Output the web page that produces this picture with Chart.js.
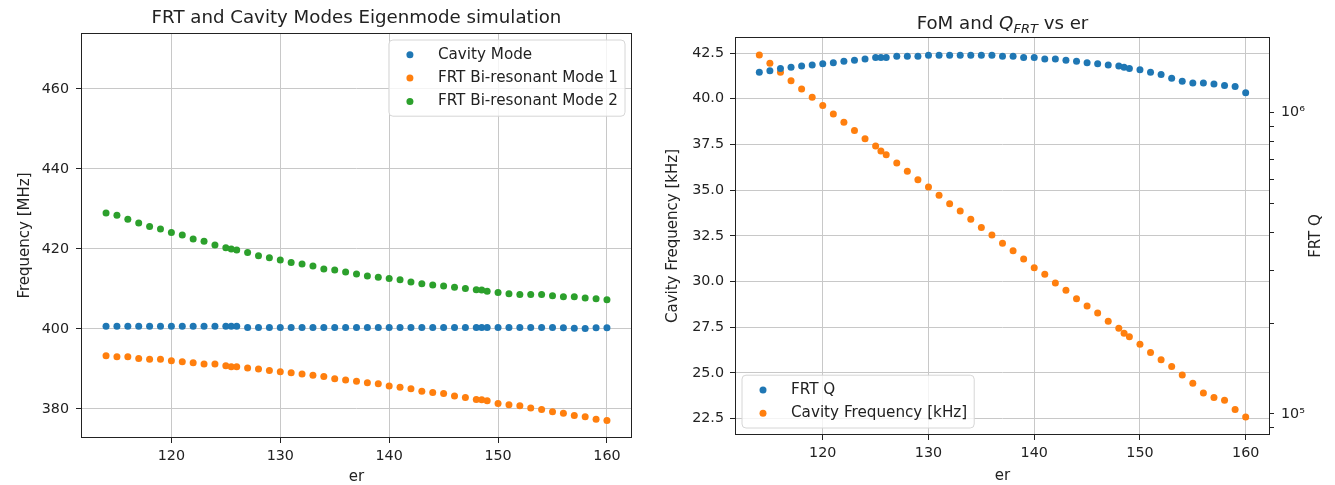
<!DOCTYPE html>
<html>
<head>
<meta charset="utf-8">
<script src="https://cdn.jsdelivr.net/npm/chart.js@4.4.1/dist/chart.umd.min.js"></script>
<style>
  body { margin: 0; background: #fff; }
  #left { position: absolute; left: 0; top: 0; }
  #right { position: absolute; left: 660px; top: 0; }
</style>
</head>
<body>
<canvas id="left" width="640" height="485"></canvas>
<canvas id="right" width="675" height="485"></canvas>
<script>
// er sweep (same x for every series)
var er = [114,115,116,117,118,119,120,121,122,123,124,125,125.5,126,
  127,128,129,130,131,132,133,134,135,136,137,138,139,140,141,142,143,144,145,146,147,148,148.5,149,
  150,151,152,153,154,155,156,157,158,159,160];

// left plot, MHz
var cavityMode = [400.65,400.65,400.65,400.65,400.65,400.65,400.65,400.65,400.65,400.65,400.65,400.65,400.65,400.65,
  400.35,400.35,400.35,400.35,400.35,400.35,400.35,400.35,400.35,400.35,400.35,400.35,400.35,400.35,400.35,400.35,400.35,400.35,400.35,400.35,400.35,400.35,400.35,400.35,
  400.35,400.35,400.35,400.35,400.35,400.35,400.25,400.15,400.1,400.3,400.3];
var mode1 = [393.3,393.0,393.0,392.6,392.4,392.4,392.05,391.8,391.5,391.2,391.2,390.8,390.5,390.5,
  390.2,389.95,389.6,389.3,389.0,388.7,388.4,388.1,387.5,387.2,386.9,386.5,386.3,385.7,385.4,385.0,384.4,384.1,383.8,383.2,382.8,382.35,382.25,382.0,
  381.3,381.0,380.75,380.2,379.8,379.25,378.9,378.3,378.0,377.4,377.1];
var mode2 = [429.0,428.4,427.4,426.5,425.6,425.0,424.1,423.5,422.5,421.9,421.0,420.3,420.0,419.7,
  419.1,418.3,417.8,417.2,416.6,416.25,415.7,415.0,414.75,414.2,413.75,413.2,412.9,412.6,412.3,411.7,411.3,411.0,410.75,410.4,410.1,409.8,409.7,409.4,
  409.1,408.75,408.6,408.6,408.6,408.3,408.0,408.0,407.7,407.5,407.25];

// right plot
var frtQ = [1.36e6,1.375e6,1.40e6,1.413e6,1.428e6,1.439e6,1.453e6,1.464e6,1.479e6,1.491e6,1.506e6,1.522e6,1.522e6,1.522e6,
  1.537e6,1.537e6,1.537e6,1.549e6,1.549e6,1.549e6,1.549e6,1.549e6,1.549e6,1.549e6,1.537e6,1.537e6,1.522e6,1.522e6,1.506e6,1.506e6,1.491e6,1.479e6,1.464e6,1.453e6,1.439e6,1.428e6,1.413e6,1.40e6,
  1.388e6,1.36e6,1.337e6,1.299e6,1.27e6,1.253e6,1.253e6,1.244e6,1.229e6,1.219e6,1.164e6];
var cavityFreq = [42.39,41.94,41.45,40.99,40.54,40.08,39.63,39.17,38.72,38.26,37.81,37.41,37.14,36.94,
  36.48,36.03,35.57,35.17,34.72,34.26,33.86,33.41,32.95,32.55,32.09,31.68,31.23,30.75,30.39,29.92,29.52,29.06,28.66,28.28,27.83,27.44,27.17,26.97,
  26.57,26.12,25.72,25.35,24.88,24.43,23.90,23.65,23.50,22.99,22.59];

var erTicks = [120,130,140,150,160];
var mhzTicks = [380,400,420,440,460];
var khzTicks = [22.5,25,27.5,30,32.5,35,37.5,40,42.5];
var qTicks = [9e4,1e5,2e5,3e5,4e5,5e5,6e5,7e5,8e5,9e5,1e6];

var BLUE = '#1f77b4', ORANGE = '#ff7f0e', GREEN = '#2ca02c';
var FONT = '"DejaVu Sans", sans-serif';
var INK = '#222';
var GRID = '#c8c8c8';

Chart.defaults.font.family = FONT;
Chart.defaults.color = INK;

function pts(ys) {
  return er.map(function (x, i) { return {x: x, y: ys[i]}; });
}
function ds(label, ys, color, axis) {
  var d = {label: label, data: pts(ys), backgroundColor: color, borderColor: color,
    pointRadius: 3.5, pointBorderWidth: 0, pointHoverRadius: 3.5};
  if (axis) d.yAxisID = axis;
  return d;
}
function fixTicks(list) {
  return function (scale) { scale.ticks = list.map(function (v) { return {value: v}; }); };
}

// full black frame round the plot area
var frame = {
  id: 'frame',
  afterDraw: function (chart) {
    var c = chart.ctx, a = chart.chartArea;
    c.save();
    c.strokeStyle = INK;
    c.lineWidth = 1;
    c.strokeRect(Math.round(a.left) + 0.5, Math.round(a.top) + 0.5,
      Math.round(a.right - a.left) - 1, Math.round(a.bottom - a.top) - 1);
    c.restore();
  }
};

// title made of pieces so the subscript can be drawn
function titlePlugin(pieces, baseline) {
  return {
    id: 'pieceTitle',
    afterDraw: function (chart) {
      var c = chart.ctx, a = chart.chartArea;
      c.save();
      c.fillStyle = INK;
      c.textBaseline = 'alphabetic';
      c.textAlign = 'left';
      var total = 0;
      pieces.forEach(function (p) { c.font = p.f; total += c.measureText(p.t).width; });
      var x = (a.left + a.right) / 2 - total / 2;
      pieces.forEach(function (p) {
        c.font = p.f;
        c.fillText(p.t, x, baseline + (p.dy || 0));
        x += c.measureText(p.t).width;
      });
      c.restore();
    }
  };
}

// matplotlib-like legend box inside the axes
function legendPlugin(where) {
  return {
    id: 'boxLegend',
    afterDraw: function (chart) {
      var c = chart.ctx, a = chart.chartArea;
      var items = chart.data.datasets;
      var rowH = 23.4;
      c.save();
      c.font = '15.2px ' + FONT;
      var tw = 0;
      items.forEach(function (d) { tw = Math.max(tw, c.measureText(d.label).width); });
      var w = 49 + tw + 7;
      var h = items.length * rowH + 6;
      var x = where === 'ur' ? a.right - 7 - w : a.left + 7;
      var y = where === 'ur' ? a.top + 7 : a.bottom - 7 - h;
      var r = 4;
      c.beginPath();
      c.moveTo(x + r, y);
      c.arcTo(x + w, y, x + w, y + h, r);
      c.arcTo(x + w, y + h, x, y + h, r);
      c.arcTo(x, y + h, x, y, r);
      c.arcTo(x, y, x + w, y, r);
      c.closePath();
      c.fillStyle = 'rgba(255,255,255,0.8)';
      c.fill();
      c.strokeStyle = '#d6d6d6';
      c.lineWidth = 1;
      c.stroke();
      c.textBaseline = 'middle';
      items.forEach(function (d, i) {
        var cy = y + 3 + rowH * (i + 0.5);
        c.fillStyle = d.backgroundColor;
        c.beginPath();
        c.arc(x + 21, cy, 3.5, 0, Math.PI * 2);
        c.fill();
        c.fillStyle = INK;
        c.fillText(d.label, x + 49, cy);
      });
      c.restore();
    }
  };
}

// right-hand axis label reading bottom to top
var frtQLabel = {
  id: 'frtQLabel',
  afterDraw: function (chart) {
    var c = chart.ctx, a = chart.chartArea;
    c.save();
    c.translate(656, (a.top + a.bottom) / 2);
    c.rotate(-Math.PI / 2);
    c.font = '15px ' + FONT;
    c.fillStyle = INK;
    c.textAlign = 'center';
    c.textBaseline = 'middle';
    c.fillText('FRT Q', 0, 0);
    c.restore();
  }
};

var tickFont = {size: 14.3, family: FONT};
var labelFont = {size: 15, family: FONT, lineHeight: 1.2};

new Chart(document.getElementById('left'), {
  type: 'scatter',
  data: {datasets: [
    ds('Cavity Mode', cavityMode, BLUE),
    ds('FRT Bi-resonant Mode 1', mode1, ORANGE),
    ds('FRT Bi-resonant Mode 2', mode2, GREEN)
  ]},
  options: {
    responsive: false,
    animation: false,
    layout: {padding: {top: 33, right: 8, left: 0, bottom: 0}},
    plugins: {legend: {display: false}, tooltip: {enabled: false}},
    scales: {
      x: {
        type: 'linear', min: 111.7, max: 162.3,
        afterBuildTicks: fixTicks(erTicks),
        afterFit: function (s) { s.height = 47; },
        grid: {color: GRID, lineWidth: 1, tickColor: INK, tickLength: 5},
        border: {display: false},
        ticks: {font: tickFont, color: INK, padding: 5, maxRotation: 0, autoSkip: false},
        title: {display: true, text: 'er', font: {size: 15, family: FONT, lineHeight: 1}, padding: {top: 0, bottom: 0}}
      },
      y: {
        type: 'linear', min: 372.7, max: 474,
        afterBuildTicks: fixTicks(mhzTicks),
        afterFit: function (s) { s.width = 81; },
        grid: {color: GRID, lineWidth: 1, tickColor: INK, tickLength: 5},
        border: {display: false},
        ticks: {font: tickFont, color: INK, padding: 7, autoSkip: false},
        title: {display: true, text: 'Frequency [MHz]', font: labelFont, padding: {top: 16, bottom: 0}}
      }
    }
  },
  plugins: [frame, legendPlugin('ur'),
    titlePlugin([{t: 'FRT and Cavity Modes Eigenmode simulation', f: '18.2px ' + FONT}], 23)]
});

new Chart(document.getElementById('right'), {
  type: 'scatter',
  data: {datasets: [
    ds('FRT Q', frtQ, BLUE, 'q'),
    ds('Cavity Frequency [kHz]', cavityFreq, ORANGE, 'y')
  ]},
  options: {
    responsive: false,
    animation: false,
    layout: {padding: {top: 37, right: 0, left: 0, bottom: 0}},
    plugins: {legend: {display: false}, tooltip: {enabled: false}},
    scales: {
      x: {
        type: 'linear', min: 111.7, max: 162.3,
        afterBuildTicks: fixTicks(erTicks),
        afterFit: function (s) { s.height = 50; },
        grid: {color: GRID, lineWidth: 1, tickColor: INK, tickLength: 5},
        border: {display: false},
        ticks: {font: tickFont, color: INK, padding: 5, maxRotation: 0, autoSkip: false},
        title: {display: true, text: 'er', font: {size: 15, family: FONT, lineHeight: 1}, padding: {top: 0, bottom: 1.8}}
      },
      y: {
        type: 'linear', position: 'left', min: 21.6, max: 43.38,
        afterBuildTicks: fixTicks(khzTicks),
        afterFit: function (s) { s.width = 75; },
        grid: {color: GRID, lineWidth: 1, tickColor: INK, tickLength: 5},
        border: {display: false},
        ticks: {font: tickFont, color: INK, padding: 6, autoSkip: false,
          callback: function (v) { return v.toFixed(1); }},
        title: {display: true, text: 'Cavity Frequency [kHz]', font: labelFont, padding: {top: 4, bottom: 0}}
      },
      q: {
        type: 'logarithmic', position: 'right', min: 85100, max: 1781000,
        afterBuildTicks: fixTicks(qTicks),
        afterFit: function (s) { s.width = 65; },
        grid: {drawOnChartArea: false, tickColor: INK, tickLength: 4},
        border: {display: false},
        ticks: {font: tickFont, color: INK, padding: 7, autoSkip: false,
          callback: function (v) { return v === 1e5 ? '10\u2075' : (v === 1e6 ? '10\u2076' : ''); }}
      }
    }
  },
  plugins: [frame, legendPlugin('ll'), frtQLabel,
    titlePlugin([
      {t: 'FoM and ', f: '18.2px ' + FONT},
      {t: 'Q', f: 'italic 18.2px ' + FONT},
      {t: 'FRT', f: 'italic 13px ' + FONT, dy: 4},
      {t: ' vs er', f: '18.2px ' + FONT}
    ], 29)]
});
</script>
</body>
</html>
